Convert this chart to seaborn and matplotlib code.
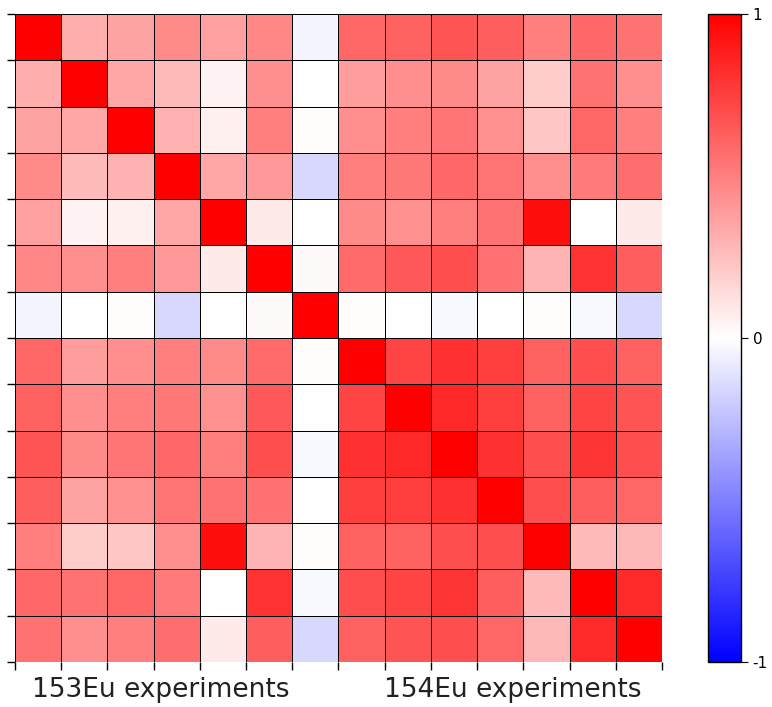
import numpy as np
import pandas as pd
import matplotlib
matplotlib.use("Agg")
import matplotlib.pyplot as plt
import seaborn as sns

# 14 experiments: first 7 are 153Eu, last 7 are 154Eu
experiments = ["153Eu-1", "153Eu-2", "153Eu-3", "153Eu-4", "153Eu-5", "153Eu-6", "153Eu-7",
               "154Eu-1", "154Eu-2", "154Eu-3", "154Eu-4", "154Eu-5", "154Eu-6", "154Eu-7"]
group_labels = ["153Eu experiments", "154Eu experiments"]
group_label_pos = [3.16, 10.76]
cbar_ticks = [-1, 0, 1]
cbar_ticklabels = ["-1", "0", "1"]

# correlation matrix
corr = [
    [1.00, 0.32, 0.36, 0.46, 0.37, 0.47, -0.04, 0.60, 0.62, 0.67, 0.63, 0.50, 0.59, 0.55],
    [0.32, 1.00, 0.35, 0.27, 0.05, 0.44, 0.00, 0.39, 0.44, 0.46, 0.36, 0.20, 0.55, 0.44],
    [0.36, 0.35, 1.00, 0.30, 0.06, 0.50, 0.01, 0.44, 0.50, 0.54, 0.43, 0.22, 0.60, 0.50],
    [0.46, 0.27, 0.30, 1.00, 0.35, 0.40, -0.15, 0.50, 0.53, 0.59, 0.54, 0.44, 0.52, 0.57],
    [0.37, 0.05, 0.06, 0.35, 1.00, 0.08, 0.00, 0.46, 0.43, 0.50, 0.55, 0.94, 0.00, 0.08],
    [0.47, 0.44, 0.50, 0.40, 0.08, 1.00, 0.02, 0.58, 0.65, 0.69, 0.56, 0.29, 0.80, 0.63],
    [-0.04, 0.00, 0.01, -0.15, 0.00, 0.02, 1.00, 0.01, 0.00, -0.03, 0.00, 0.01, -0.03, -0.15],
    [0.60, 0.39, 0.44, 0.50, 0.46, 0.58, 0.01, 1.00, 0.73, 0.81, 0.75, 0.62, 0.69, 0.62],
    [0.62, 0.44, 0.50, 0.53, 0.43, 0.65, 0.00, 0.73, 1.00, 0.84, 0.75, 0.62, 0.73, 0.67],
    [0.67, 0.46, 0.54, 0.59, 0.50, 0.69, -0.03, 0.81, 0.84, 1.00, 0.81, 0.69, 0.79, 0.69],
    [0.63, 0.36, 0.43, 0.54, 0.55, 0.56, 0.00, 0.75, 0.75, 0.81, 1.00, 0.69, 0.63, 0.60],
    [0.50, 0.20, 0.22, 0.44, 0.94, 0.29, 0.01, 0.62, 0.62, 0.69, 0.69, 1.00, 0.27, 0.28],
    [0.59, 0.55, 0.60, 0.52, 0.00, 0.80, -0.03, 0.69, 0.73, 0.79, 0.63, 0.27, 1.00, 0.83],
    [0.55, 0.44, 0.50, 0.57, 0.08, 0.63, -0.15, 0.62, 0.67, 0.69, 0.60, 0.28, 0.83, 1.00],
]

df = pd.DataFrame(corr, index=experiments, columns=experiments)

fig = plt.figure(figsize=(7.72, 7.07), dpi=100)
ax = fig.add_axes([0.0194, 0.0636, 0.8381, 0.9166])
cax = fig.add_axes([0.917, 0.0636, 0.0427, 0.9166])

sns.heatmap(df, ax=ax, cbar_ax=cax, cmap="bwr", vmin=-1, vmax=1,
            linewidths=0.7, linecolor="black", square=False,
            xticklabels=False, yticklabels=False)

# ticks on the cell borders, no labels
n = len(experiments)
ax.set_xticks(np.arange(n + 1))
ax.set_yticks(np.arange(n + 1))
ax.set_xticklabels([])
ax.set_yticklabels([])
ax.tick_params(axis="both", length=6, width=1, color="black")
ax.set_xlabel("")
ax.set_ylabel("")

for lab, xpos in zip(group_labels, group_label_pos):
    ax.text(xpos, n + 0.33, lab, ha="center", va="top", fontsize=19, color="#222222")

cbar = ax.collections[0].colorbar
cbar.outline.set_linewidth(1)
cbar.outline.set_edgecolor("black")
cbar.set_ticks(cbar_ticks)
cbar.set_ticklabels(cbar_ticklabels)
cbar.ax.tick_params(labelsize=11, length=5)

plt.savefig("out.png", dpi=100)
plt.close()
